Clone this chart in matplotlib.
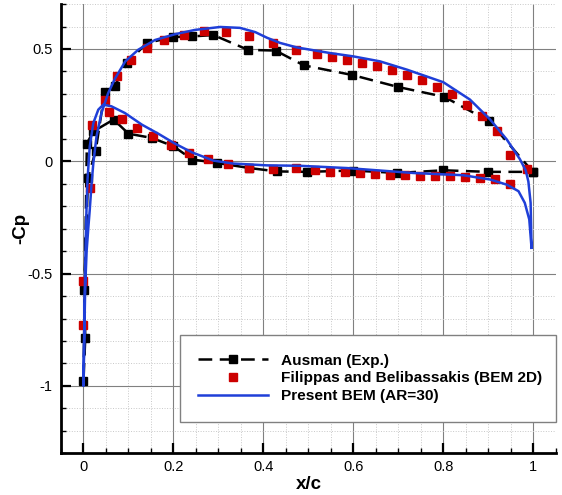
import numpy as np
import matplotlib
matplotlib.use("Agg")
import matplotlib.pyplot as plt
from matplotlib.ticker import MultipleLocator, FormatStrFormatter

plt.rcParams['font.family'] = ['Liberation Sans', 'DejaVu Sans']
plt.rcParams['axes.unicode_minus'] = False

# Ausman (Exp.) - upper and lower surface, leading edge -> trailing edge
ausman_up_x = [0.000, 0.004, 0.002, 0.010, 0.027, 0.047, 0.070, 0.096, 0.141, 0.200, 0.242,
               0.289, 0.366, 0.427, 0.490, 0.598, 0.699, 0.802, 0.902, 0.999]
ausman_up_y = [-0.980, -0.786, -0.571, -0.074, 0.045, 0.307, 0.337, 0.436, 0.527, 0.553, 0.556,
               0.562, 0.496, 0.493, 0.427, 0.384, 0.331, 0.287, 0.178, -0.047]
ausman_lo_x = [0.0075, 0.022, 0.067, 0.100, 0.152, 0.200, 0.242, 0.296, 0.369, 0.430, 0.498,
               0.599, 0.698, 0.800, 0.900]
ausman_lo_y = [0.079, 0.133, 0.186, 0.123, 0.104, 0.067, 0.008, -0.007, -0.030, -0.045, -0.047,
               -0.041, -0.052, -0.040, -0.047]

# Filippas and Belibassakis (BEM 2D)
fil_up_x = [0.000, 0.000, 0.014, 0.019, 0.047, 0.075, 0.105, 0.141, 0.179, 0.223, 0.269, 0.317,
            0.368, 0.421, 0.473, 0.519, 0.552, 0.585, 0.619, 0.652, 0.685, 0.719, 0.752, 0.785,
            0.819, 0.852, 0.885, 0.919, 0.948, 0.985]
fil_up_y = [-0.727, -0.531, -0.119, 0.161, 0.275, 0.380, 0.451, 0.505, 0.540, 0.564, 0.579, 0.576,
            0.559, 0.527, 0.497, 0.479, 0.463, 0.450, 0.438, 0.423, 0.405, 0.383, 0.364, 0.331,
            0.300, 0.252, 0.203, 0.134, 0.030, -0.034]
fil_lo_x = [0.056, 0.086, 0.118, 0.155, 0.194, 0.235, 0.276, 0.322, 0.367, 0.421, 0.473, 0.515,
            0.548, 0.582, 0.615, 0.648, 0.682, 0.715, 0.748, 0.782, 0.815, 0.848, 0.881, 0.915,
            0.948]
fil_lo_y = [0.218, 0.190, 0.149, 0.111, 0.073, 0.036, 0.011, -0.012, -0.030, -0.034, -0.032,
            -0.037, -0.047, -0.047, -0.052, -0.055, -0.059, -0.062, -0.067, -0.067, -0.067,
            -0.069, -0.074, -0.081, -0.099]

# Present BEM (AR=30)
bem_up_x = [0.000, 0.002, 0.004, 0.007, 0.011, 0.014, 0.018, 0.022, 0.029, 0.040, 0.055, 0.070,
            0.093, 0.122, 0.159, 0.204, 0.248, 0.304, 0.348, 0.382, 0.408, 0.437, 0.474, 0.548,
            0.600, 0.659, 0.719, 0.800, 0.859, 0.904, 0.941, 0.970, 0.983, 0.989, 0.994, 0.996]
bem_up_y = [-1.000, -0.750, -0.550, -0.400, -0.290, -0.215, -0.100, -0.007, 0.111, 0.215, 0.304,
            0.368, 0.445, 0.497, 0.540, 0.566, 0.585, 0.598, 0.594, 0.575, 0.550, 0.527, 0.507,
            0.482, 0.467, 0.445, 0.408, 0.352, 0.275, 0.186, 0.097, 0.010, -0.040, -0.090,
            -0.185, -0.385]
bem_lo_x = [0.000, 0.002, 0.004, 0.0067, 0.009, 0.014, 0.022, 0.033, 0.044, 0.062, 0.092, 0.130,
            0.167, 0.204, 0.241, 0.289, 0.333, 0.407, 0.481, 0.585, 0.733, 0.844, 0.904, 0.941,
            0.967, 0.981, 0.991, 0.996]
bem_lo_y = [-1.000, -0.700, -0.450, -0.215, -0.081, 0.067, 0.171, 0.230, 0.252, 0.245, 0.215,
            0.163, 0.122, 0.078, 0.040, 0.003, -0.010, -0.018, -0.020, -0.030, -0.052, -0.062,
            -0.081, -0.104, -0.133, -0.185, -0.259, -0.385]

labels = ["Ausman (Exp.)", "Filippas and Belibassakis (BEM 2D)", "Present BEM (AR=30)"]

fig = plt.figure(figsize=(5.62, 4.95), dpi=100)
ax = fig.add_axes([0.1085, 0.0842, 0.8805, 0.9076])

# closed loop: TE -> upper -> LE -> lower -> TE
ax_x = ausman_up_x[::-1] + ausman_lo_x + [ausman_up_x[-1]]
ax_y = ausman_up_y[::-1] + ausman_lo_y + [ausman_up_y[-1]]
ax.plot(ax_x, ax_y, color='black', lw=1.8, linestyle=(0, (5.5, 3)), marker='s', ms=6,
        label=labels[0], zorder=3)
ax.plot(fil_up_x + fil_lo_x, fil_up_y + fil_lo_y, linestyle='none', marker='s', ms=6,
        color='#cc0000', label=labels[1], zorder=4)
ax.plot(bem_up_x[::-1] + bem_lo_x, bem_up_y[::-1] + bem_lo_y, color='#1f3fd8', lw=1.8,
        label=labels[2], zorder=5)

ax.set_xlim(-0.05, 1.05)
ax.set_ylim(-1.3, 0.7)
ax.xaxis.set_major_locator(MultipleLocator(0.2))
ax.xaxis.set_minor_locator(MultipleLocator(0.05))
ax.yaxis.set_major_locator(MultipleLocator(0.5))
ax.yaxis.set_minor_locator(MultipleLocator(0.1))
ax.xaxis.set_major_formatter(FormatStrFormatter('%g'))
ax.yaxis.set_major_formatter(FormatStrFormatter('%g'))

ax.grid(which='major', color='#808080', lw=0.8, linestyle='-')
ax.grid(which='minor', color='#c8c8c8', lw=0.7, linestyle=':')
ax.set_axisbelow(True)

for s in ['top', 'right']:
    ax.spines[s].set_visible(False)
for s in ['left', 'bottom']:
    ax.spines[s].set_linewidth(2)
ax.tick_params(which='major', direction='in', length=7, width=1.6, labelsize=10.5, pad=5)
ax.tick_params(which='minor', direction='in', length=3.5, width=1)
ax.tick_params(axis='y', which='major', pad=6)

ax.set_xlabel('x/c', fontsize=13.5, fontweight='bold', labelpad=1)
ax.set_ylabel('-Cp', fontsize=13.5, fontweight='bold', labelpad=-1)

leg = ax.legend(loc='lower left', bbox_to_anchor=(0.24, 0.0703, 0.76, 0.21), mode='expand',
                prop={'size': 11.1, 'weight': 'bold'}, fancybox=False, framealpha=1,
                edgecolor='#808080', borderpad=1.2, labelspacing=0.25, handlelength=4.5,
                handletextpad=0.9, numpoints=1, borderaxespad=0)
leg.get_frame().set_linewidth(1)

fig.savefig('out.png', dpi=100)
